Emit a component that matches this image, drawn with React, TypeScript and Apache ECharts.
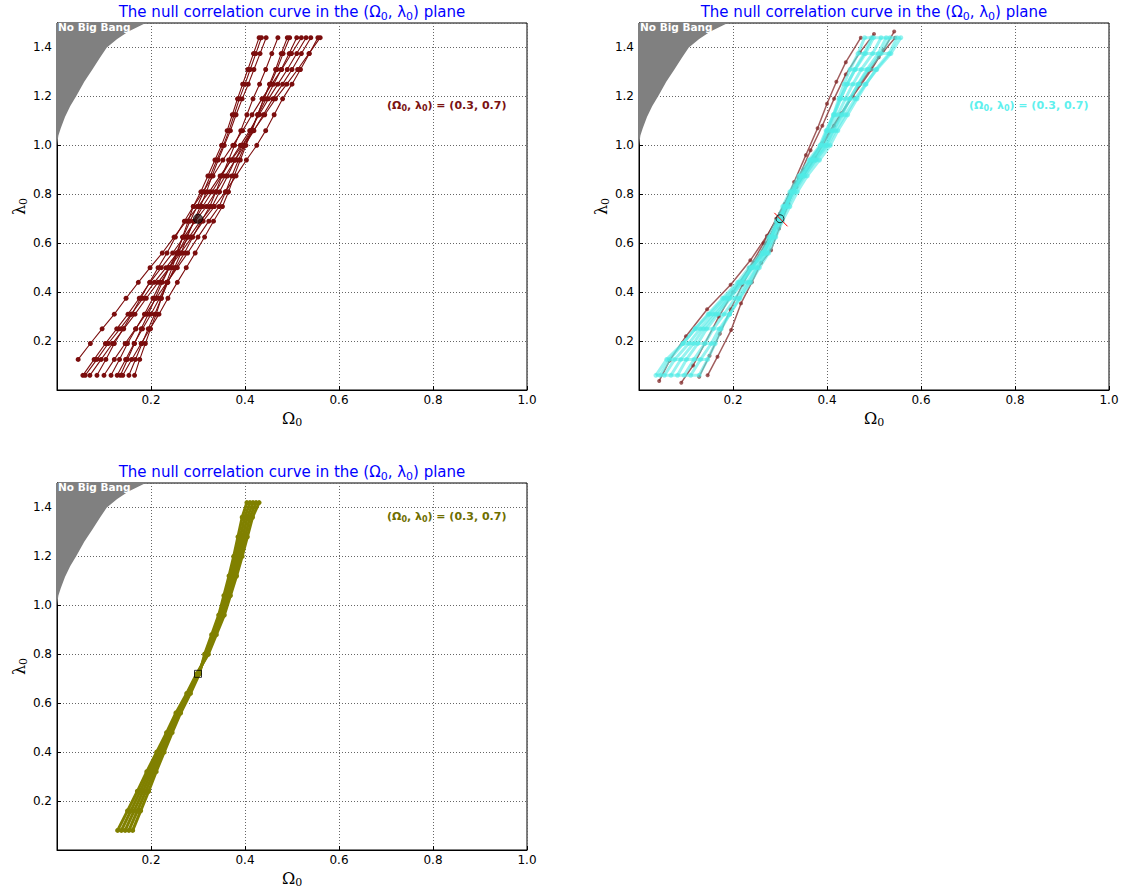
import React, { useEffect, useRef } from 'react';
import * as echarts from 'echarts';

// ---------- data ----------
const noBigBangOmega = [0, 0.003, 0.008, 0.017, 0.028, 0.042, 0.058, 0.076, 0.092, 0.106, 0.128, 0.152, 0.178, 0.2];
const noBigBangLambda = [1.0, 1.04, 1.07, 1.116, 1.16, 1.205, 1.26, 1.312, 1.36, 1.4, 1.435, 1.465, 1.49, 1.51];

const lambdaLevels = [0.06, 0.125, 0.19, 0.25, 0.31, 0.375, 0.44, 0.5, 0.56, 0.625, 0.69, 0.75, 0.81, 0.875, 0.94, 1.0, 1.06, 1.125, 1.19, 1.25, 1.31, 1.375, 1.44];

const panel1Lines: (number | null)[][] = [
  [null, 0.045, 0.071, 0.096, 0.122, 0.147, 0.173, 0.198, 0.224, 0.249, 0.275, 0.300, 0.324, 0.347, 0.371, 0.394, 0.418, 0.442, 0.465, 0.489, 0.512, 0.536, 0.560],
  [0.055, 0.079, 0.103, 0.127, 0.151, 0.175, 0.198, 0.222, 0.246, 0.270, 0.294, 0.318, 0.338, 0.358, 0.379, 0.399, 0.419, 0.439, 0.459, 0.480, 0.500, 0.520, 0.540],
  [0.070, 0.094, 0.118, 0.142, 0.166, 0.190, 0.215, 0.239, 0.263, 0.287, 0.311, 0.335, 0.358, 0.381, 0.403, 0.425, 0.444, 0.462, 0.480, 0.500, 0.518, 0.537, 0.555],
  [0.085, 0.104, 0.122, 0.141, 0.159, 0.178, 0.197, 0.215, 0.234, 0.252, 0.271, 0.290, 0.311, 0.332, 0.353, 0.374, 0.395, 0.415, 0.436, 0.457, 0.478, 0.499, 0.520],
  [0.100, 0.122, 0.145, 0.167, 0.189, 0.211, 0.234, 0.256, 0.278, 0.300, 0.323, 0.345, 0.359, 0.372, 0.386, 0.400, 0.413, 0.427, 0.440, 0.454, 0.468, 0.481, 0.495],
  [0.115, 0.133, 0.150, 0.168, 0.186, 0.204, 0.221, 0.239, 0.257, 0.275, 0.292, 0.310, 0.330, 0.350, 0.370, 0.390, 0.410, 0.430, 0.450, 0.470, 0.490, 0.510, 0.530],
  [0.128, 0.146, 0.164, 0.182, 0.200, 0.218, 0.235, 0.253, 0.271, 0.289, 0.307, 0.325, 0.338, 0.351, 0.365, 0.378, 0.391, 0.404, 0.417, 0.431, 0.444, 0.457, 0.470],
  [0.140, 0.159, 0.179, 0.198, 0.217, 0.236, 0.256, 0.275, 0.294, 0.314, 0.333, 0.352, 0.365, 0.377, 0.390, 0.402, 0.415, 0.427, 0.440, 0.452, 0.465, 0.477, 0.490],
  [0.153, 0.167, 0.181, 0.194, 0.208, 0.222, 0.236, 0.250, 0.264, 0.277, 0.291, 0.305, 0.318, 0.330, 0.343, 0.356, 0.369, 0.381, 0.394, 0.407, 0.419, 0.432, 0.445],
  [0.165, 0.176, 0.188, 0.199, 0.211, 0.222, 0.233, 0.245, 0.256, 0.267, 0.279, 0.290, 0.306, 0.321, 0.336, 0.350, 0.362, 0.373, 0.384, 0.395, 0.406, 0.418, 0.430],
  [0.060, 0.085, 0.109, 0.134, 0.158, 0.183, 0.207, 0.232, 0.256, 0.281, 0.305, 0.330, 0.346, 0.363, 0.379, 0.395, 0.412, 0.428, 0.445, 0.461, 0.477, 0.494, 0.510],
  [0.135, 0.150, 0.165, 0.179, 0.194, 0.209, 0.224, 0.239, 0.254, 0.268, 0.283, 0.298, 0.312, 0.326, 0.340, 0.354, 0.366, 0.377, 0.388, 0.400, 0.411, 0.423, 0.435],
];

const panel2Cyan: number[][] = [
  [0.036, 0.059, 0.093, 0.120, 0.150, 0.182, 0.214, 0.239, 0.264, 0.281, 0.297, 0.313, 0.329, 0.351, 0.376, 0.401, 0.418, 0.439, 0.460, 0.482, 0.506, 0.536, 0.557],
  [0.128, 0.146, 0.162, 0.175, 0.193, 0.213, 0.234, 0.251, 0.271, 0.286, 0.299, 0.313, 0.327, 0.346, 0.367, 0.388, 0.400, 0.414, 0.425, 0.436, 0.449, 0.466, 0.480],
  [0.054, 0.076, 0.106, 0.130, 0.157, 0.187, 0.217, 0.240, 0.265, 0.281, 0.297, 0.312, 0.327, 0.348, 0.372, 0.396, 0.411, 0.431, 0.448, 0.467, 0.488, 0.515, 0.534],
  [0.082, 0.101, 0.125, 0.144, 0.168, 0.194, 0.221, 0.242, 0.265, 0.281, 0.295, 0.310, 0.324, 0.344, 0.365, 0.387, 0.401, 0.416, 0.429, 0.443, 0.459, 0.479, 0.495],
  [0.110, 0.131, 0.154, 0.171, 0.193, 0.215, 0.238, 0.256, 0.276, 0.291, 0.305, 0.321, 0.337, 0.358, 0.384, 0.407, 0.423, 0.444, 0.464, 0.483, 0.504, 0.532, 0.549],
  [0.068, 0.089, 0.116, 0.137, 0.163, 0.191, 0.219, 0.241, 0.265, 0.281, 0.296, 0.311, 0.326, 0.346, 0.369, 0.392, 0.406, 0.423, 0.439, 0.455, 0.473, 0.497, 0.515],
  [0.096, 0.117, 0.140, 0.158, 0.181, 0.205, 0.230, 0.250, 0.271, 0.287, 0.301, 0.316, 0.331, 0.352, 0.376, 0.399, 0.413, 0.432, 0.449, 0.466, 0.485, 0.509, 0.526],
  [0.045, 0.065, 0.094, 0.119, 0.147, 0.178, 0.210, 0.234, 0.260, 0.276, 0.292, 0.306, 0.321, 0.340, 0.362, 0.385, 0.398, 0.414, 0.428, 0.443, 0.460, 0.482, 0.499],
];

const panel2BrownOmega: number[][] = [
  [0.043, 0.065, 0.10, 0.145, 0.195, 0.237, 0.272, 0.3, 0.335, 0.375, 0.415, 0.455, 0.495, 0.52, 0.543],
  [0.128, 0.15, 0.172, 0.195, 0.22, 0.245, 0.27, 0.292, 0.31, 0.33, 0.355, 0.38, 0.40, 0.42, 0.44, 0.472],
  [0.146, 0.167, 0.196, 0.217, 0.24, 0.26, 0.281, 0.298, 0.318, 0.34, 0.365, 0.39, 0.415, 0.44, 0.47, 0.50],
  [0.09, 0.115, 0.14, 0.17, 0.2, 0.235, 0.265, 0.292, 0.32, 0.35, 0.39, 0.43, 0.47, 0.51, 0.545],
];
const panel2BrownLambda: number[][] = [
  [0.037, 0.12, 0.22, 0.33, 0.43, 0.53, 0.63, 0.72, 0.83, 0.95, 1.08, 1.2, 1.31, 1.39, 1.465],
  [0.054, 0.14, 0.23, 0.33, 0.43, 0.52, 0.6, 0.68, 0.76, 0.85, 0.96, 1.07, 1.17, 1.26, 1.34, 1.44],
  [0.06, 0.136, 0.245, 0.354, 0.44, 0.52, 0.571, 0.66, 0.76, 0.87, 0.98, 1.08, 1.19, 1.29, 1.38, 1.455],
  [0.03, 0.1, 0.19, 0.3, 0.4, 0.5, 0.6, 0.7, 0.8, 0.9, 1.01, 1.13, 1.25, 1.36, 1.44],
];
const panel2CrossOmega = [0.288, 0.316];
const panel2CrossLambda = [0.724, 0.669];

const panel3Levels = [0.08, 0.16, 0.24, 0.32, 0.40, 0.48, 0.56, 0.64, 0.72, 0.80, 0.88, 0.96, 1.04, 1.12, 1.20, 1.28, 1.36, 1.42];
const panel3Lines: number[][] = [
  [0.129, 0.150, 0.171, 0.191, 0.212, 0.233, 0.253, 0.276, 0.297, 0.322, 0.339, 0.356, 0.369, 0.382, 0.394, 0.405, 0.416, 0.430],
  [0.137, 0.157, 0.177, 0.196, 0.216, 0.236, 0.2555, 0.278, 0.2985, 0.320, 0.3365, 0.353, 0.3655, 0.378, 0.3895, 0.400, 0.4105, 0.4235],
  [0.145, 0.164, 0.183, 0.201, 0.220, 0.239, 0.258, 0.280, 0.300, 0.318, 0.334, 0.350, 0.362, 0.374, 0.385, 0.395, 0.405, 0.417],
  [0.153, 0.171, 0.189, 0.206, 0.224, 0.242, 0.2605, 0.282, 0.3015, 0.316, 0.3315, 0.347, 0.3585, 0.370, 0.3805, 0.390, 0.3995, 0.4105],
  [0.161, 0.178, 0.195, 0.211, 0.228, 0.245, 0.263, 0.284, 0.303, 0.314, 0.329, 0.344, 0.355, 0.366, 0.376, 0.385, 0.394, 0.404],
];

const fiducialOmega = [0.3];
const fiducialLambda = [0.7];
const fiducialLambda3 = [0.72];

const xTickValues = [0.2, 0.4, 0.6, 0.8, 1.0];
const yTickValues = [0.2, 0.4, 0.6, 0.8, 1.0, 1.2, 1.4];

const titleText = 'The null correlation curve in the ({g|Ω}{s|0}, {g|λ}{s|0}) plane';
const annotText = '({g|Ω}{s|0}, {g|λ}{s|0}) = (0.3, 0.7)';

// ---------- layout ----------
const grids = [
  { left: 57, top: 23, width: 470, height: 367 },
  { left: 639, top: 23, width: 470, height: 367 },
  { left: 57, top: 483, width: 470, height: 367 },
];

function pairs(xs: (number | null)[], ys: number[]) {
  const out: number[][] = [];
  xs.forEach((x, i) => {
    if (x !== null && x !== undefined) out.push([x, ys[i]]);
  });
  return out;
}

const App: React.FC = () => {
  const ref = useRef<HTMLDivElement>(null);

  useEffect(() => {
    document.body.style.margin = '0';
    if (!ref.current) return;
    const chart = echarts.init(ref.current, null, { renderer: 'svg' });

    const fmt = (v: number, allowed: number[]) =>
      allowed.some((a) => Math.abs(a - v) < 1e-6) ? v.toFixed(1) : '';

    const nameRich = {
      o: { fontFamily: 'DejaVu Serif', fontSize: 16, color: '#000', lineHeight: 20 },
      s: { fontFamily: 'DejaVu Serif', fontSize: 11, color: '#000', lineHeight: 12, verticalAlign: 'bottom' },
    };

    const xAxes = grids.map((_, i) => ({
      gridIndex: i,
      type: 'value',
      min: 0,
      max: 1,
      interval: 0.2,
      name: '{o|Ω}{s|0}',
      nameLocation: 'middle',
      nameGap: 18,
      nameTextStyle: { rich: nameRich },
      axisLine: { show: true, onZero: false, lineStyle: { color: '#000', width: 1 } },
      axisTick: { show: true, inside: true, length: 4, lineStyle: { color: '#000' } },
      axisLabel: {
        color: '#000',
        fontSize: 12,
        fontFamily: 'DejaVu Sans',
        margin: 4,
        formatter: (v: number) => fmt(v, xTickValues),
      },
      splitLine: { show: true, lineStyle: { color: '#666', type: [1, 2], width: 1 } },
    }));

    const yAxes = grids.map((_, i) => ({
      gridIndex: i,
      type: 'value',
      min: 0,
      max: 1.5,
      interval: 0.2,
      name: '{o|λ}{s|0}',
      nameLocation: 'middle',
      nameRotate: 90,
      nameGap: 28,
      nameTextStyle: { rich: nameRich },
      axisLine: { show: true, onZero: false, lineStyle: { color: '#000', width: 1 } },
      axisTick: { show: true, inside: true, length: 4, lineStyle: { color: '#000' } },
      axisLabel: {
        color: '#000',
        fontSize: 12,
        fontFamily: 'DejaVu Sans',
        margin: 5,
        formatter: (v: number) => fmt(v, yTickValues),
      },
      splitLine: { show: true, lineStyle: { color: '#666', type: [1, 2], width: 1 } },
    }));

    const series: any[] = [];

    // No Big Bang regions
    grids.forEach((_, i) => {
      series.push({
        type: 'line',
        xAxisIndex: i,
        yAxisIndex: i,
        data: pairs(noBigBangOmega, noBigBangLambda),
        symbol: 'none',
        lineStyle: { width: 0, color: '#808080' },
        areaStyle: { color: '#808080', opacity: 1, origin: 'end' },
        silent: true,
        z: 1,
      });
    });

    // Panel 1
    panel1Lines.forEach((line) => {
      series.push({
        type: 'line',
        xAxisIndex: 0,
        yAxisIndex: 0,
        data: pairs(line, lambdaLevels),
        symbol: 'circle',
        symbolSize: 5,
        lineStyle: { color: '#7b0d0d', width: 1.1 },
        itemStyle: { color: '#7b0d0d' },
        z: 3,
      });
    });
    series.push({
      type: 'scatter',
      xAxisIndex: 0,
      yAxisIndex: 0,
      data: pairs(fiducialOmega, fiducialLambda),
      symbol: 'circle',
      symbolSize: 9,
      itemStyle: { color: 'rgba(40,20,20,0.85)', borderColor: '#000', borderWidth: 1 },
      z: 5,
    });

    // Panel 2
    panel2BrownOmega.forEach((line, k) => {
      series.push({
        type: 'line',
        xAxisIndex: 1,
        yAxisIndex: 1,
        data: pairs(line, panel2BrownLambda[k]),
        symbol: 'circle',
        symbolSize: 4,
        lineStyle: { color: 'rgba(130,40,40,0.75)', width: 1.5 },
        itemStyle: { color: 'rgba(130,40,40,0.75)' },
        z: 3,
      });
    });
    // horizontal rungs across the cyan bundle at each level (from the lines' own extremes)
    const rungs = lambdaLevels.map((lam, j) => {
      const vals = panel2Cyan.map((l) => l[j]);
      return [[Math.min(...vals), lam], [Math.max(...vals), lam]];
    });
    rungs.forEach((r) => {
      series.push({
        type: 'line',
        xAxisIndex: 1,
        yAxisIndex: 1,
        data: r,
        symbol: 'none',
        lineStyle: { color: 'rgba(80,235,230,0.55)', width: 3 },
        z: 4,
      });
    });
    panel2Cyan.forEach((line) => {
      series.push({
        type: 'line',
        xAxisIndex: 1,
        yAxisIndex: 1,
        data: pairs(line, lambdaLevels),
        symbol: 'circle',
        symbolSize: 5,
        lineStyle: { color: 'rgba(80,235,230,0.6)', width: 3 },
        itemStyle: { color: 'rgba(80,235,230,0.6)' },
        z: 4,
      });
    });
    series.push({
      type: 'line',
      xAxisIndex: 1,
      yAxisIndex: 1,
      data: pairs(panel2CrossOmega, panel2CrossLambda),
      symbol: 'none',
      lineStyle: { color: '#ff0000', width: 1 },
      z: 5,
    });
    series.push({
      type: 'scatter',
      xAxisIndex: 1,
      yAxisIndex: 1,
      data: pairs(fiducialOmega, fiducialLambda),
      symbol: 'circle',
      symbolSize: 8,
      itemStyle: { color: 'rgba(0,0,0,0)', borderColor: '#000', borderWidth: 1 },
      z: 6,
    });

    // Panel 3
    panel3Lines.forEach((line) => {
      series.push({
        type: 'line',
        xAxisIndex: 2,
        yAxisIndex: 2,
        data: pairs(line, panel3Levels),
        symbol: 'circle',
        symbolSize: 5,
        lineStyle: { color: '#808000', width: 3 },
        itemStyle: { color: '#808000' },
        z: 3,
      });
    });
    series.push({
      type: 'scatter',
      xAxisIndex: 2,
      yAxisIndex: 2,
      data: pairs(fiducialOmega, fiducialLambda3),
      symbol: 'rect',
      symbolSize: 7,
      itemStyle: { color: 'rgba(0,0,0,0)', borderColor: '#000', borderWidth: 1 },
      z: 6,
    });

    const subRich = (size: number, color: string, bold: boolean) => ({
      g: { fontFamily: 'DejaVu Sans', fontSize: size, fill: color, fontWeight: bold ? 'bold' : 'normal', lineHeight: size + 4 },
      s: { fontFamily: 'DejaVu Sans', fontSize: Math.round(size * 0.7), fill: color, fontWeight: bold ? 'bold' : 'normal', lineHeight: Math.round(size * 0.7), verticalAlign: 'bottom' },
    });

    const graphics: any[] = [];
    grids.forEach((g) => {
      graphics.push({
        type: 'text',
        x: g.left + g.width / 2,
        y: g.top - 11,
        z: 10,
        style: {
          text: titleText,
          fill: '#0000ff',
          fontSize: 15,
          fontFamily: 'DejaVu Sans',
          align: 'center',
          verticalAlign: 'middle',
          lineHeight: 19,
          rich: subRich(15, '#0000ff', false),
        },
      });
      graphics.push({
        type: 'text',
        x: g.left + 1,
        y: g.top + 4,
        z: 10,
        style: {
          text: 'No Big Bang',
          fill: '#ffffff',
          fontSize: 10.5,
          fontWeight: 'bold',
          fontFamily: 'DejaVu Sans',
          align: 'left',
          verticalAlign: 'middle',
        },
      });
    });
    const annots = [
      { x: 387, y: 105, color: '#7a1212' },
      { x: 969, y: 105, color: '#5ff0ee' },
      { x: 387, y: 516, color: '#6e6e00' },
    ];
    annots.forEach((a) => {
      graphics.push({
        type: 'text',
        x: a.x,
        y: a.y,
        z: 10,
        style: {
          text: annotText,
          fill: a.color,
          fontSize: 11,
          fontWeight: 'bold',
          fontFamily: 'DejaVu Sans',
          align: 'left',
          verticalAlign: 'middle',
          lineHeight: 15,
          rich: subRich(11, a.color, true),
        },
      });
    });

    chart.setOption({
      animation: false,
      backgroundColor: '#ffffff',
      grid: grids.map((g) => ({ ...g, show: true, borderColor: '#000', borderWidth: 1, backgroundColor: 'transparent', containLabel: false })),
      xAxis: xAxes,
      yAxis: yAxes,
      series,
      graphic: graphics,
    });

    return () => {
      chart.dispose();
    };
  }, []);

  return <div ref={ref} style={{ width: 1133, height: 889 }} />;
};

export default App;
